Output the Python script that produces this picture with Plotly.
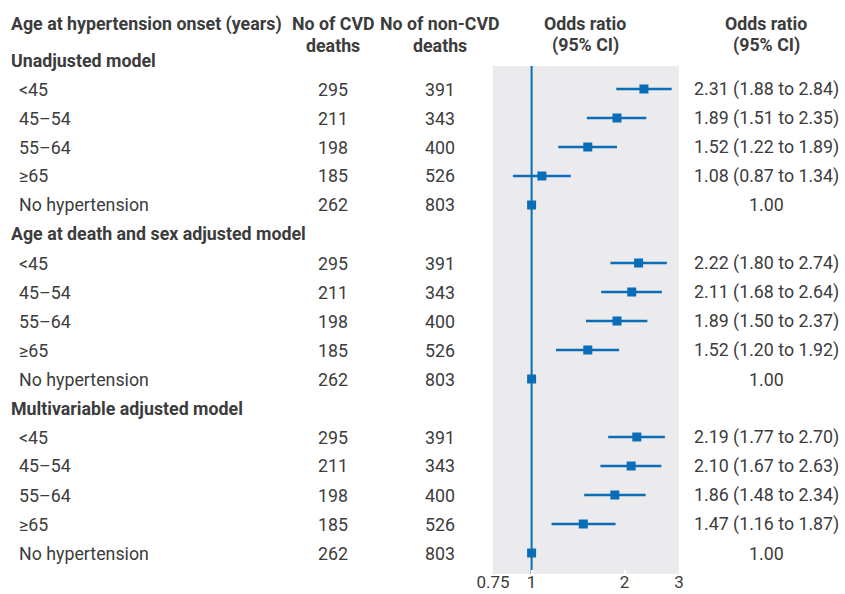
import plotly.graph_objects as go

W, H = 845, 594

models = ["Unadjusted model", "Age at death and sex adjusted model", "Multivariable adjusted model"]
groups = ["<45", "45\u201354", "55\u201364", "\u226565", "No hypertension"]
cvd_deaths = [295, 211, 198, 185, 262]
noncvd_deaths = [391, 343, 400, 526, 803]

or_unadj = [2.31, 1.89, 1.52, 1.08, 1.00]
lo_unadj = [1.88, 1.51, 1.22, 0.87, 1.00]
hi_unadj = [2.84, 2.35, 1.89, 1.34, 1.00]

or_agesex = [2.22, 2.11, 1.89, 1.52, 1.00]
lo_agesex = [1.80, 1.68, 1.50, 1.20, 1.00]
hi_agesex = [2.74, 2.64, 2.37, 1.92, 1.00]

or_multi = [2.19, 2.10, 1.86, 1.47, 1.00]
lo_multi = [1.77, 1.67, 1.48, 1.16, 1.00]
hi_multi = [2.70, 2.63, 2.34, 1.87, 1.00]

tick_vals = [0.75, 1, 2, 3]
tick_text = ["0.75", "1", "2", "3"]

ORS = [or_unadj, or_agesex, or_multi]
LOS = [lo_unadj, lo_agesex, lo_multi]
HIS = [hi_unadj, hi_agesex, hi_multi]

BLUE = "#0B6DB7"
TXT = "#3c3c3c"
FONT = "Roboto"
FS = 17.8

# pixel layout
TOP, BOT = 66, 574
X0, X1 = 493, 679
ROW0, STEP = 60, 29

def py(px):
    return (BOT - px) / (BOT - TOP)

def px_x(px):
    return px / W

xs, lo_err, hi_err = [], [], []
annotations = []

def ann(text, x, y, anchor="left", bold=False, size=FS):
    annotations.append(dict(
        text=("<b>%s</b>" % text) if bold else text,
        x=px_x(x), y=py(y), xref="paper", yref="paper",
        xanchor=anchor, yanchor="middle", showarrow=False,
        font=dict(family=FONT, size=size, color=TXT),
    ))

# headers
ann("Age at hypertension onset (years)", 9, 24, bold=True)
ann("No of CVD", 333, 24, anchor="center", bold=True)
ann("deaths", 333, 45, anchor="center", bold=True)
ann("No of non-CVD", 440, 24, anchor="center", bold=True)
ann("deaths", 440, 45, anchor="center", bold=True)
ann("Odds ratio", 585, 24, anchor="center", bold=True)
ann("(95% CI)", 585, 45, anchor="center", bold=True)
ann("Odds ratio", 766, 24, anchor="center", bold=True)
ann("(95% CI)", 766, 45, anchor="center", bold=True)

row_k = []
for m, model in enumerate(models):
    k = m * 6
    ann(model, 9, ROW0 + STEP * k, bold=True)
    for g, grp in enumerate(groups):
        kk = k + 1 + g
        ypx = ROW0 + STEP * kk
        ann(grp, 17, ypx)
        ann(str(cvd_deaths[g]), 333, ypx, anchor="center")
        ann(str(noncvd_deaths[g]), 440, ypx, anchor="center")
        o, lo, hi = ORS[m][g], LOS[m][g], HIS[m][g]
        if grp == "No hypertension":
            ann("%.2f" % o, 766, ypx, anchor="center")
        else:
            ann("%.2f (%.2f to %.2f)" % (o, lo, hi), 766, ypx, anchor="center")
        row_k.append(kk)
        xs.append(o)
        lo_err.append(o - lo)
        hi_err.append(hi - o)

k_lo = (TOP - ROW0) / STEP
k_hi = (BOT - ROW0) / STEP

fig = go.Figure()
fig.add_trace(go.Scatter(
    x=xs, y=row_k, mode="markers",
    marker=dict(symbol="square", size=9, color=BLUE),
    error_x=dict(type="data", symmetric=False, array=hi_err, arrayminus=lo_err,
                 color=BLUE, thickness=2.5, width=0),
    hoverinfo="skip", showlegend=False, cliponaxis=False,
))

fig.add_shape(type="line", xref="x", yref="paper", x0=1, x1=1, y0=0, y1=1,
              line=dict(color=BLUE, width=2), layer="below")

fig.update_layout(
    width=W, height=H,
    margin=dict(l=0, r=0, t=TOP, b=H - BOT, pad=0),
    paper_bgcolor="white",
    plot_bgcolor="#EBEBED",
    annotations=annotations,
    xaxis=dict(
        type="log", domain=[X0 / W, X1 / W],
        range=[-0.1249387, 0.4771213],
        tickvals=tick_vals, ticktext=tick_text,
        ticks="inside", ticklen=4, tickcolor="white", tickwidth=2,
        ticklabelstandoff=-4,
        showgrid=False, zeroline=False, showline=False,
        tickfont=dict(family=FONT, size=17, color=TXT),
        automargin=False,
    ),
    yaxis=dict(
        range=[k_hi, k_lo], showgrid=False, zeroline=False, showline=False,
        showticklabels=False, ticks="", automargin=False,
    ),
)

fig.write_html(
    "out.html",
    config={"displayModeBar": False},
    post_script="document.body.style.margin='0px';document.body.style.overflow='hidden';",
)
